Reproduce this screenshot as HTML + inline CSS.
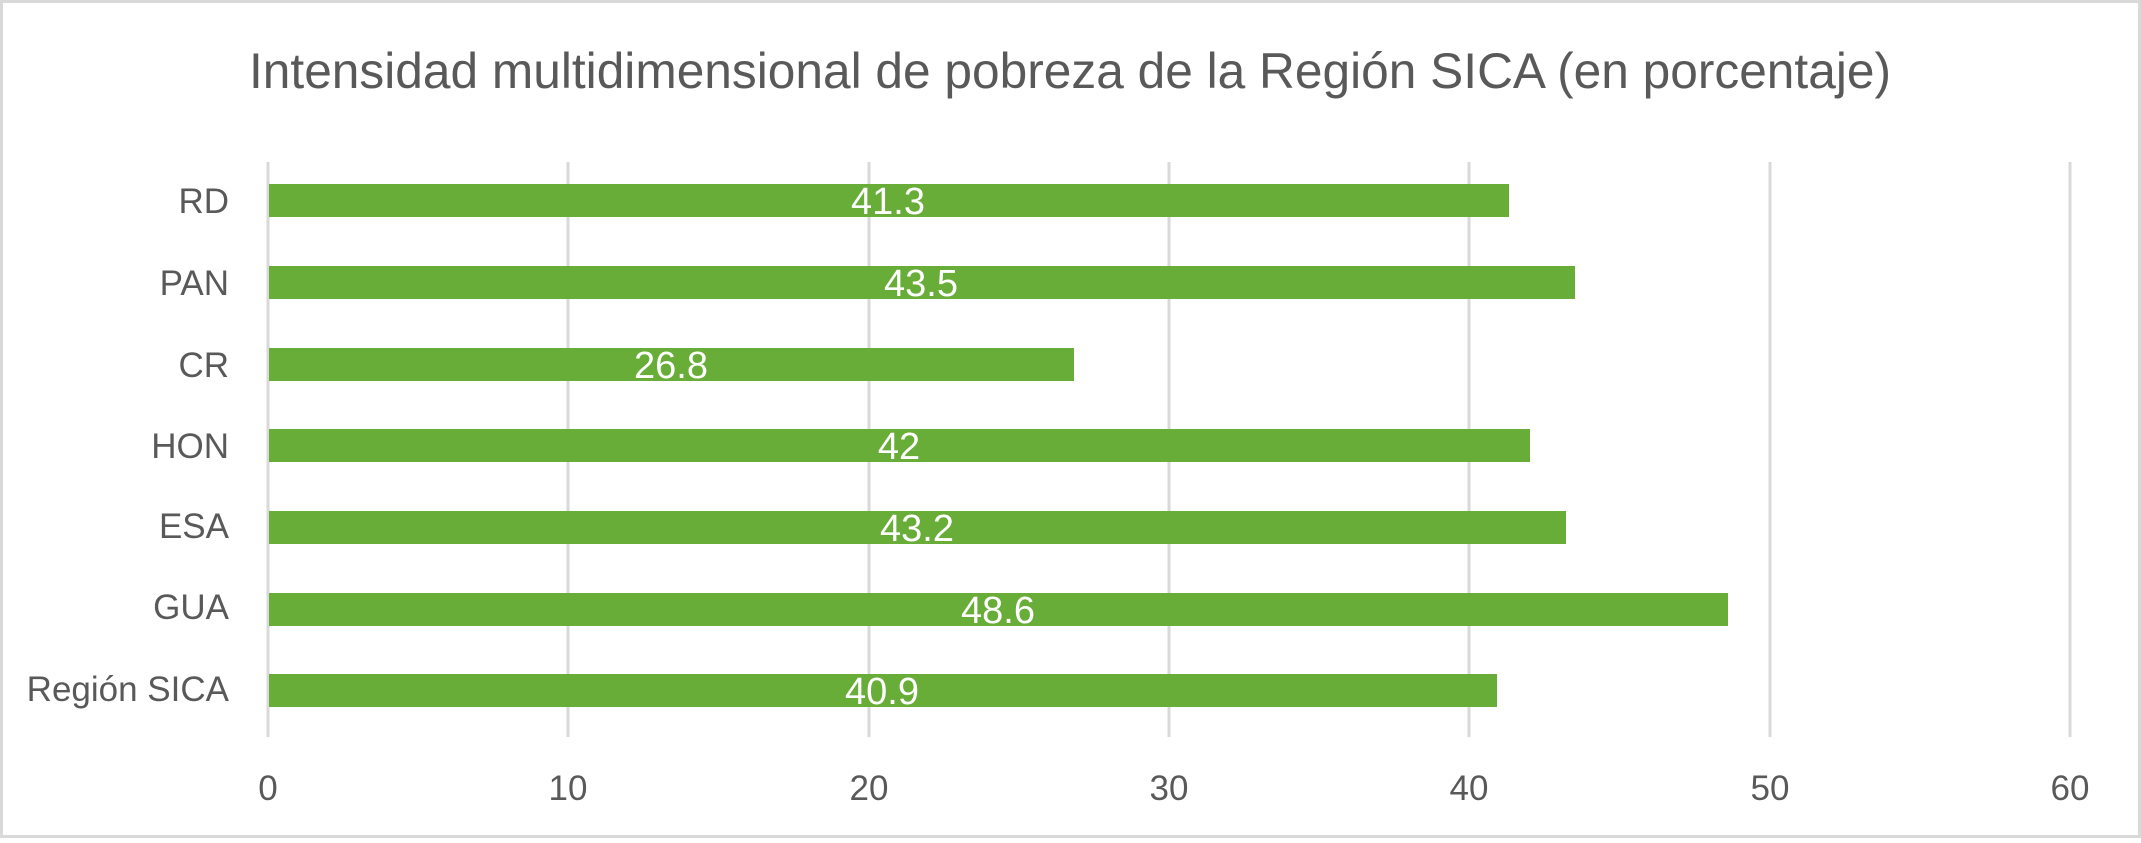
<!DOCTYPE html>
<html><head><meta charset="utf-8"><style>
html,body{margin:0;padding:0;background:#fff;}
</style></head><body>
<svg width="2141" height="838" xmlns="http://www.w3.org/2000/svg" font-family="'Liberation Sans', sans-serif">
<rect x="1.5" y="1.5" width="2138" height="835" fill="#fff" stroke="#d9d9d9" stroke-width="3"/>
<text x="249" y="88" font-size="50" fill="#595959" textLength="1642" lengthAdjust="spacingAndGlyphs">Intensidad multidimensional de pobreza de la Región SICA (en porcentaje)</text>
<g stroke="#d9d9d9" stroke-width="3">
<line x1="268" y1="162" x2="268" y2="737"/>
<line x1="568" y1="162" x2="568" y2="737"/>
<line x1="869" y1="162" x2="869" y2="737"/>
<line x1="1169" y1="162" x2="1169" y2="737"/>
<line x1="1469" y1="162" x2="1469" y2="737"/>
<line x1="1770" y1="162" x2="1770" y2="737"/>
<line x1="2070" y1="162" x2="2070" y2="737"/>
</g>
<g fill="#67ad37">
<rect x="269" y="184" width="1240" height="33"/>
<rect x="269" y="266" width="1306" height="33"/>
<rect x="269" y="348" width="805" height="33"/>
<rect x="269" y="429" width="1261" height="33"/>
<rect x="269" y="511" width="1297" height="33"/>
<rect x="269" y="593" width="1459" height="33"/>
<rect x="269" y="674" width="1228" height="33"/>
</g>
<g fill="#fff" font-size="38" text-anchor="middle">
<text x="888" y="214">41.3</text>
<text x="921" y="296">43.5</text>
<text x="671" y="378">26.8</text>
<text x="899" y="459">42</text>
<text x="917" y="541">43.2</text>
<text x="998" y="623">48.6</text>
<text x="882" y="704">40.9</text>
</g>
<g fill="#595959" font-size="35" text-anchor="end">
<text x="229" y="213">RD</text>
<text x="229" y="295">PAN</text>
<text x="229" y="377">CR</text>
<text x="229" y="458">HON</text>
<text x="229" y="538">ESA</text>
<text x="229" y="619">GUA</text>
<text x="229" y="701">Región SICA</text>
</g>
<g fill="#595959" font-size="35" text-anchor="middle">
<text x="268" y="800">0</text>
<text x="568" y="800">10</text>
<text x="869" y="800">20</text>
<text x="1169" y="800">30</text>
<text x="1469" y="800">40</text>
<text x="1770" y="800">50</text>
<text x="2070" y="800">60</text>
</g>
</svg>
</body></html>
